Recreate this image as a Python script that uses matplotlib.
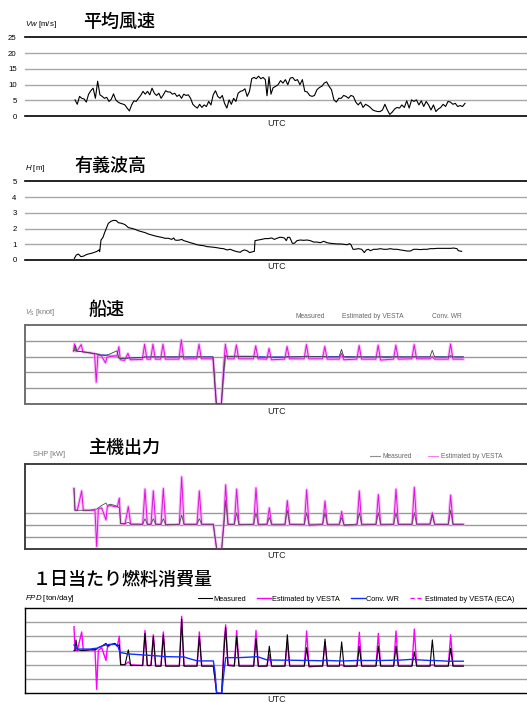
import numpy as np
import matplotlib
matplotlib.use("Agg")
import matplotlib.pyplot as plt
from matplotlib.lines import Line2D

W, H = 527, 702
plt.rcParams['font.family'] = ['Liberation Sans', 'Noto Sans CJK JP', 'DejaVu Sans']
plt.rcParams['mathtext.fontset'] = 'custom'
plt.rcParams['mathtext.rm'] = 'Liberation Sans'
plt.rcParams['mathtext.it'] = 'Liberation Sans:italic'
JP = ['Noto Sans CJK JP', 'DejaVu Sans']

# ---------------- data ----------------
# mean wind speed [m/s], three recording segments
wind_seg1 = [5.2, 3.8, 6.3, 5.7, 5.5, 4.5, 7.0, 8.1, 8.9, 5.7,
             11.1, 6.8, 6.3, 5.7, 6.0, 4.7, 5.4, 7.1, 5.2, 4.5,
             4.1, 3.9, 3.6, 2.6, 1.7, 3.6, 4.9, 4.7, 5.7, 6.6,
             7.9, 7.0, 7.9, 6.8, 8.9, 7.3, 6.6, 7.3, 5.7, 6.8,
             8.1, 7.7, 7.7, 7.0, 7.3, 6.3, 6.8, 5.7, 7.0, 6.6,
             6.8, 5.7, 3.8, 3.1, 2.6, 3.8, 2.8, 3.6, 3.1, 4.7,
             3.6, 6.8, 8.1, 6.3, 5.7, 6.6, 4.1, 2.6, 5.2, 3.8,
             5.7, 4.7, 7.3, 7.9, 8.1, 8.7, 6.3, 7.9, 11.9, 12.3,
             11.9, 12.7, 11.9, 12.3, 11.6]
wind_seg2 = [6.5, 12.5, 7.0, 9.0]
wind_seg3 = [9.5, 10.0, 11.3, 10.5, 11.6, 10.0, 12.1, 12.3, 11.3, 11.6,
             10.0, 11.6, 7.9, 7.7, 6.6, 6.3, 6.6, 8.4, 9.1, 9.5,
             10.5, 10.9, 9.5, 8.4, 5.2, 4.5, 5.7, 5.7, 6.6, 6.3,
             5.7, 6.6, 6.3, 4.5, 3.6, 4.5, 2.8, 3.8, 3.4, 2.8,
             2.0, 1.7, 1.5, 1.5, 2.0, 3.8, 2.0, 0.6, 1.3, 2.3,
             2.8, 2.6, 3.6, 2.8, 4.9, 2.6, 5.2, 4.7, 5.2, 3.6,
             4.9, 3.1, 4.7, 3.6, 2.0, 3.6, 1.5, 2.3, 2.8, 3.8,
             3.1, 4.7, 4.5, 3.8, 4.1, 3.1, 3.4, 3.1, 4.1]
wind_hours = np.concatenate([np.linspace(3, 288.5, len(wind_seg1)),
                             np.linspace(291, 300, len(wind_seg2)),
                             np.linspace(304, 588, len(wind_seg3))])
wind_speed = wind_seg1 + wind_seg2 + wind_seg3

# significant wave height [m]
wave_hours = [2, 5, 8, 12, 16, 20, 23, 27, 31, 36, 39, 40, 42, 45, 47, 50, 53, 57, 61, 65,
              68, 73, 78, 83, 88, 93, 98, 103, 108, 113, 118, 123, 128, 133, 138, 143, 148,
              151, 153, 156, 160, 163, 166, 171, 176, 181, 186, 191, 196, 201, 206, 211, 216,
              221, 226, 231, 236, 241, 246, 251, 253, 257, 261, 265, 268, 272, 273, 278, 283,
              288, 293, 298, 302, 306, 310, 313, 317, 320, 322, 325, 327, 329, 332, 336, 341,
              346, 351, 356, 361, 366, 371, 376, 381, 386, 391, 396, 401, 406, 411, 415, 417,
              420, 423, 428, 433, 437, 440, 443, 446, 451, 456, 461, 466, 471, 476, 481, 486,
              491, 496, 501, 506, 511, 516, 521, 526, 531, 536, 541, 546, 551, 556, 561, 566,
              571, 576, 578, 583]
wave_height = [0.10, 0.32, 0.38, 0.21, 0.25, 0.34, 0.38, 0.42, 0.47, 0.55, 0.64, 0.53, 1.27,
               1.44, 1.69, 2.01, 2.33, 2.46, 2.52, 2.50, 2.37, 2.33, 2.25, 2.06, 2.01, 1.95,
               1.86, 1.80, 1.74, 1.65, 1.59, 1.53, 1.48, 1.44, 1.38, 1.38, 1.31, 1.40, 1.27,
               1.25, 1.27, 1.31, 1.23, 1.17, 1.10, 1.04, 0.97, 0.93, 0.91, 0.85, 0.83, 0.81,
               0.78, 0.74, 0.72, 0.64, 0.68, 0.59, 0.53, 0.49, 0.57, 0.64, 0.59, 0.47, 0.51,
               0.55, 1.23, 1.27, 1.31, 1.36, 1.36, 1.40, 1.31, 1.38, 1.44, 1.44, 1.40, 1.23,
               1.44, 1.44, 1.27, 1.06, 1.06, 1.23, 1.27, 1.25, 1.27, 1.23, 1.14, 1.14, 1.10,
               1.19, 1.10, 1.06, 1.04, 1.02, 1.02, 1.00, 0.97, 1.04, 0.97, 0.68, 0.68, 0.72,
               0.68, 0.47, 0.64, 0.68, 0.59, 0.68, 0.68, 0.72, 0.68, 0.68, 0.72, 0.68, 0.68,
               0.64, 0.61, 0.57, 0.57, 0.68, 0.68, 0.66, 0.68, 0.68, 0.72, 0.72, 0.74, 0.74,
               0.74, 0.74, 0.74, 0.76, 0.72, 0.59, 0.55]

# ship performance series, shared time base [h]
perf_hours = [1.5, 3, 4.5, 6.5, 13, 15.5, 25.5, 33, 35.5, 38,
              43, 49.5, 51.5, 55.5, 63, 66.5, 69.5, 71.5, 78, 83,
              86.5, 104.5, 108, 111.5, 117, 120.5, 124, 132, 135.5, 139,
              159.5, 163, 166.5, 173, 186, 189.5, 193, 210.5, 213, 215.5,
              223, 226.5, 229, 232.5, 242, 245.5, 249, 271, 274.5, 278,
              291, 294.5, 298, 318, 321.5, 325, 347, 350.5, 354, 374.5,
              378, 381.5, 399.5, 403, 406.5, 426, 429.5, 433, 454.5, 458,
              461.5, 481, 484.5, 488, 508.5, 512, 515.5, 535.5, 539, 542.5,
              563, 566.5, 570, 585.5]

speed_measured = [16.8, 17.0, 18.5, 16.7, 16.6, 16.5, 16.2, 15.9, 15.8, 15.7,
                  15.5, 15.3, 15.5, 15.8, 16.5, 16.8, 14.5, 14.4, 14.4, 14.6,
                  14.6, 14.7, 14.9, 14.9, 14.9, 15.0, 14.9, 14.9, 15.0, 14.9,
                  14.9, 15.2, 14.9, 14.9, 14.9, 15.0, 14.9, 14.9, 7.0, 0.0,
                  0.0, 10.0, 15.3, 15.0, 15.0, 15.2, 15.0, 15.0, 15.1, 14.8,
                  14.8, 15.0, 14.8, 14.8, 15.0, 14.9, 15.0, 15.2, 15.0, 15.0,
                  15.0, 14.9, 14.9, 17.3, 14.9, 14.9, 15.0, 14.9, 14.9, 15.0,
                  14.9, 14.9, 15.0, 14.9, 14.9, 15.0, 14.9, 14.9, 17.0, 14.9,
                  14.9, 15.3, 14.9, 14.9]
speed_vesta = [16.8, 19.0, 16.8, 16.7, 18.8, 16.5, 16.2, 15.9, 6.9, 15.5,
               15.3, 13.0, 14.8, 15.0, 15.2, 15.2, 18.1, 14.0, 13.8, 16.0,
               14.0, 14.1, 18.9, 14.2, 14.2, 18.9, 14.2, 14.2, 18.9, 14.2,
               14.2, 20.3, 14.2, 14.3, 14.3, 18.9, 14.3, 14.3, 7.0, 0.0,
               0.0, 12.0, 18.9, 14.3, 14.3, 18.7, 14.3, 14.3, 18.4, 14.3,
               14.2, 17.6, 14.0, 14.2, 18.2, 14.3, 14.3, 18.8, 14.3, 14.3,
               18.2, 14.2, 14.2, 16.0, 14.0, 14.2, 18.5, 14.2, 14.2, 18.6,
               13.9, 14.2, 18.6, 14.2, 14.3, 18.8, 14.3, 14.3, 15.0, 14.2,
               14.2, 19.0, 14.2, 14.2]
speed_conv_wr = [16.8, 16.8, 16.8, 16.7, 16.6, 16.5, 16.2, 16.0, 15.9, 15.8,
                 15.6, 15.5, 15.4, 15.4, 15.3, 15.2, 14.6, 14.4, 14.4, 14.4,
                 14.4, 14.7, 14.9, 14.9, 14.9, 14.9, 14.9, 14.9, 14.9, 14.9,
                 14.9, 14.9, 14.9, 14.9, 14.9, 14.9, 14.9, 14.9, 10.0, 0.0,
                 0.0, 8.0, 15.1, 15.1, 15.1, 15.1, 15.1, 15.1, 15.1, 15.0,
                 14.9, 14.9, 14.9, 14.9, 14.9, 14.9, 15.0, 15.0, 15.0, 15.0,
                 15.0, 15.0, 15.0, 15.0, 15.0, 14.9, 14.9, 14.9, 14.9, 14.9,
                 14.9, 14.9, 14.9, 14.9, 14.9, 14.9, 14.9, 14.9, 14.9, 14.9,
                 14.9, 14.9, 14.9, 14.9]

shp_measured = [5.0, 3.2, 3.2, 3.2, 3.2, 3.2, 3.2, 3.3, 3.3, 3.4,
                3.6, 3.8, 3.6, 3.7, 3.6, 3.5, 3.4, 2.1, 2.1, 2.2,
                2.05, 2.05, 2.5, 2.05, 2.05, 2.5, 2.05, 2.05, 2.5, 2.0,
                2.05, 2.8, 2.05, 2.05, 2.05, 2.5, 2.05, 2.05, 1.0, 0.0,
                0.0, 2.0, 4.0, 2.05, 2.05, 3.0, 2.0, 2.05, 3.0, 2.05,
                2.05, 2.6, 2.05, 2.05, 3.2, 2.05, 2.05, 3.0, 2.05, 2.05,
                3.0, 2.05, 2.05, 2.6, 2.0, 2.05, 3.0, 2.05, 2.05, 3.0,
                2.05, 2.05, 3.0, 2.05, 2.05, 3.0, 2.05, 2.05, 2.8, 2.05,
                2.05, 3.2, 2.05, 2.05]
shp_vesta = [5.0, 3.2, 3.2, 3.2, 4.8, 3.2, 3.2, 3.2, 0.2, 3.3,
             3.4, 2.4, 3.5, 3.6, 3.5, 3.5, 4.2, 2.1, 2.05, 3.5,
             2.05, 2.03, 4.95, 2.03, 2.03, 4.8, 2.03, 2.03, 5.0, 2.0,
             2.03, 5.96, 2.03, 2.03, 2.03, 4.8, 2.03, 2.03, 1.0, 0.0,
             0.0, 2.5, 5.3, 2.03, 2.03, 4.95, 2.03, 2.03, 5.05, 2.0,
             2.03, 3.4, 2.0, 2.0, 4.0, 2.03, 2.0, 4.9, 1.95, 2.03,
             3.96, 2.0, 2.0, 3.1, 1.95, 2.0, 4.8, 2.0, 2.03, 4.5,
             2.0, 2.03, 4.95, 2.03, 2.03, 5.1, 2.05, 2.05, 3.0, 2.03,
             2.03, 4.45, 2.03, 2.03]

fpd_measured = [3.0, 3.0, 3.74, 3.05, 3.0, 3.0, 3.05, 3.05, 3.1, 3.2,
                3.3, 3.5, 3.3, 3.4, 3.5, 3.3, 3.4, 2.0, 2.0, 3.04,
                1.95, 1.95, 4.2, 1.95, 1.95, 4.0, 1.9, 1.9, 4.1, 1.9,
                1.9, 5.2, 1.9, 1.9, 1.9, 4.0, 1.9, 1.9, 1.0, 0.0,
                0.0, 3.0, 4.6, 1.95, 1.9, 4.0, 1.9, 1.9, 3.8, 1.9,
                1.9, 3.3, 1.9, 1.9, 4.1, 1.9, 1.9, 3.2, 1.9, 1.9,
                3.8, 1.9, 1.9, 3.6, 1.9, 1.9, 3.3, 1.9, 1.9, 3.3,
                1.9, 1.9, 3.3, 1.9, 1.9, 2.9, 1.9, 1.9, 3.74, 1.9,
                1.9, 3.15, 1.9, 1.9]
fpd_vesta = [4.67, 3.0, 3.0, 3.0, 4.3, 3.0, 3.05, 3.05, 0.28, 3.0,
             3.2, 2.3, 3.2, 3.4, 3.45, 3.3, 4.0, 2.0, 2.0, 2.2,
             2.0, 1.95, 4.4, 1.95, 1.95, 4.1, 1.95, 1.95, 4.3, 1.95,
             1.95, 5.4, 1.95, 1.95, 1.95, 4.3, 1.95, 1.95, 1.0, 0.0,
             0.0, 3.5, 4.8, 2.0, 1.95, 4.4, 1.95, 1.95, 4.4, 1.9,
             1.95, 2.7, 1.9, 1.95, 3.6, 1.95, 1.95, 4.37, 1.85, 1.95,
             3.6, 1.95, 1.95, 2.0, 1.9, 1.95, 4.28, 1.95, 1.95, 4.2,
             1.95, 1.95, 4.37, 1.95, 1.95, 4.5, 1.95, 1.95, 2.0, 1.95,
             1.95, 4.1, 1.95, 1.95]
fpd_conv_wr = [3.39, 3.3, 3.2, 3.1, 3.1, 3.1, 3.1, 3.15, 3.15, 3.2,
               3.3, 3.4, 3.4, 3.43, 3.43, 3.4, 3.0, 2.85, 2.8, 2.75,
               2.75, 2.69, 2.68, 2.67, 2.65, 2.64, 2.63, 2.6, 2.58, 2.57,
               2.55, 2.55, 2.55, 2.45, 2.28, 2.27, 2.27, 2.27, 1.5, 0.0,
               0.0, 1.5, 2.5, 2.5, 2.5, 2.5, 2.5, 2.55, 2.57, 2.55,
               2.34, 2.34, 2.33, 2.32, 2.32, 2.32, 2.3, 2.32, 2.3, 2.28,
               2.32, 2.3, 2.27, 2.27, 2.27, 2.3, 2.32, 2.3, 2.3, 2.3,
               2.3, 2.32, 2.32, 2.32, 2.38, 2.38, 2.35, 2.3, 2.3, 2.3,
               2.25, 2.25, 2.25, 2.25]
fpd_vesta_eca = []
fpd_vesta_eca_hours = []

for s in (speed_measured, speed_vesta, speed_conv_wr, shp_measured, shp_vesta,
          fpd_measured, fpd_vesta, fpd_conv_wr):
    assert len(s) == len(perf_hours)
assert len(wave_hours) == len(wave_height)

# ---------------- layout helpers ----------------
fig = plt.figure(figsize=(W / 100, H / 100), dpi=100)
X_LIM = (-72, 684)
MAGENTA = '#ff00ff'
BLUE = '#1030ff'


def panel(top, bottom, left=25, right=529):
    return fig.add_axes([left / W, 1 - bottom / H, (right - left) / W, (bottom - top) / H])


def ftext(x, y, s, **kw):
    kw.setdefault('va', 'center')
    return fig.text(x / W, 1 - y / H, s, **kw)


def frame(ax, ylim, grid, spine_color, left_spine, grid_color='#a8a8a8', lw=1.2):
    ax.set_xlim(*X_LIM)
    ax.set_ylim(*ylim)
    ax.set_xticks([])
    for g in grid:
        ax.axhline(g, color=grid_color, lw=1.0, zorder=0)
    for side in ('top', 'bottom'):
        ax.spines[side].set_color(spine_color)
        ax.spines[side].set_linewidth(lw)
    ax.spines['right'].set_visible(False)
    ax.spines['left'].set_visible(left_spine)
    ax.spines['left'].set_color(spine_color)
    ax.spines['left'].set_linewidth(lw)
    ax.tick_params(axis='y', length=0, labelsize=5.6, pad=6)


def title(x, y, s):
    ftext(x, y, s, family=JP, fontsize=13, fontweight='medium')


def utc(y):
    ftext(277, y, 'UTC', ha='center', fontsize=6.5, color='#222222')


def vesta_line(ax, t, v):
    ax.plot(t, v, color='#f4a6f4', lw=2.2, alpha=0.75, zorder=2)
    return ax.plot(t, v, color='#e010e0', lw=0.7, zorder=3)[0]


# ---------------- 平均風速 ----------------
ax1 = panel(37.3, 116.3)
frame(ax1, (0, 25), [5, 10, 15, 20], 'black', False)
ax1.set_yticks([0, 5, 10, 15, 20, 25])
ax1.plot(wind_hours, wind_speed, color='black', lw=0.8)
title(83, 22, '平均風速')
ftext(25, 25, r'$Vw$ [m/s]', fontsize=5.7)
utc(124)

# ---------------- 有義波高 ----------------
ax2 = panel(181.3, 260)
frame(ax2, (0, 5), [1, 2, 3, 4], 'black', False)
ax2.set_yticks([0, 1, 2, 3, 4, 5])
ax2.plot(wave_hours, wave_height, color='black', lw=0.8)
title(74, 166, '有義波高')
ftext(25, 168, r'$H$ [m]', fontsize=5.7)
utc(266)

# ---------------- 船速 ----------------
ax3 = panel(325, 404, left=24.5)
frame(ax3, (0, 25), [5, 10, 15, 20], '#707070', True, grid_color='#999999', lw=1.4)
ax3.set_yticks([])
ax3.plot(perf_hours, speed_conv_wr, color=BLUE, lw=0.8, zorder=2, alpha=0.85)
vesta_line(ax3, perf_hours, speed_vesta)
ax3.plot(perf_hours, speed_measured, color='#404040', lw=0.6, zorder=4)
title(88, 310, '船速')
ftext(25, 312, r'$V_{\rm S}$ [knot]', fontsize=5.3, color='#777777')
for x, s in ((295, 'Measured'), (342, 'Estimated by VESTA'), (432, 'Conv. WR')):
    ftext(x, 317, s, fontsize=4.8, color='#666666')
utc(411)

# ---------------- 主機出力 ----------------
ax4 = panel(464.3, 549)
frame(ax4, (0, 7), [1, 2, 3], '#404040', True, grid_color='#999999', lw=1.4)
ax4.set_yticks([])
h_vesta = vesta_line(ax4, perf_hours, shp_vesta)
h_meas = ax4.plot(perf_hours, shp_measured, color='#505050', lw=0.6, zorder=4)[0]
title(88, 448, '主機出力')
ftext(33, 455, 'SHP [kW]', fontsize=5.3, color='#777777')
fig.legend([Line2D([], [], color='#909090', lw=0.8), Line2D([], [], color='#f080f0', lw=0.8)],
           ['Measured', 'Estimated by VESTA'], loc='center left',
           bbox_to_anchor=(370 / W, 1 - 457 / H), ncol=2, frameon=False, fontsize=4.8,
           handlelength=1.5, handletextpad=0.45, columnspacing=2.4, borderpad=0,
           borderaxespad=0, labelcolor='#666666')
utc(555)

# ---------------- １日当たり燃料消費量 ----------------
ax5 = panel(607.7, 693.3)
frame(ax5, (0, 6), [1, 2, 3, 4, 5], 'black', True, grid_color='#a0a0a0', lw=1.0)
ax5.set_yticks([])
l_meas, = ax5.plot(perf_hours, fpd_measured, color='black', lw=0.8, zorder=3)
l_vesta, = ax5.plot(perf_hours, fpd_vesta, color=MAGENTA, lw=1.0, zorder=2)
l_wr, = ax5.plot(perf_hours, fpd_conv_wr, color=BLUE, lw=1.0, zorder=4)
l_eca, = ax5.plot(fpd_vesta_eca_hours, fpd_vesta_eca, color=MAGENTA, lw=1.0, ls=(0, (3, 2)))
title(33, 580, '１日当たり燃料消費量')
ftext(25, 598, r'$FPD$ [ton/day]', fontsize=5.7)
fig.legend([l_meas, l_vesta, l_wr, l_eca],
           ['Measured', 'Estimated by VESTA', 'Conv. WR', 'Estimated by VESTA (ECA)'],
           loc='center left', bbox_to_anchor=(198 / W, 1 - 599 / H), ncol=4, frameon=False,
           fontsize=5.3, handlelength=1.9, handletextpad=0.15, columnspacing=1.5,
           borderpad=0, borderaxespad=0)
utc(699)

fig.savefig('out.png', dpi=100)
